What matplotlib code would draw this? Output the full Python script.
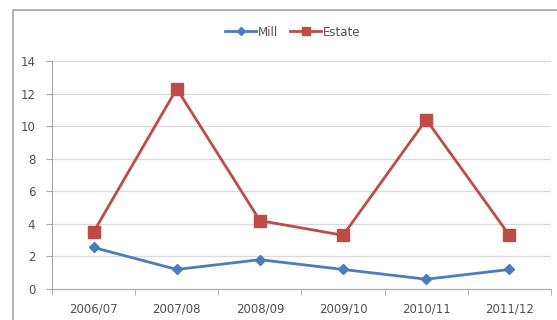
import numpy as np
import matplotlib.pyplot as plt
from matplotlib.patches import Rectangle

seasons = ['2006/07', '2007/08', '2008/09', '2009/10', '2010/11', '2011/12']
mill = [2.55, 1.2, 1.8, 1.2, 0.6, 1.2]
estate = [3.5, 12.3, 4.2, 3.3, 10.4, 3.3]

fig = plt.figure(figsize=(5.57, 3.2), dpi=100)
ax = fig.add_axes([52 / 557, 1 - 289 / 320, 499 / 557, 228 / 320])

# outer chart frame
fig.patches.append(Rectangle((13 / 557, -0.1), 1.0, 1 - 10 / 320 + 0.1,
                             transform=fig.transFigure, fill=False,
                             edgecolor='#a6a6a6', linewidth=1.2))

x = np.arange(len(seasons))
ax.plot(x, mill, color='#4a7ebb', linewidth=2, marker='D', markersize=5.5,
        label='Mill', zorder=3)
ax.plot(x, estate, color='#be4b48', linewidth=2, marker='s', markersize=8,
        label='Estate', zorder=3)

ax.set_xlim(-0.5, len(seasons) - 0.5)
ax.set_ylim(0, 14)
ax.set_yticks(np.arange(0, 15, 2))
ax.set_xticks(x)
ax.set_xticklabels(seasons)
ax.set_xticks(np.arange(-0.5, len(seasons)), minor=True)
ax.tick_params(axis='x', which='major', length=0, pad=10)
ax.tick_params(axis='x', which='minor', length=4, color='#a6a6a6')
ax.tick_params(axis='y', length=4, color='#a6a6a6', pad=8)
ax.tick_params(labelsize=8.5, labelcolor='#505050')

ax.grid(True, axis='y', color='#d9d9d9', linewidth=0.9)
ax.set_axisbelow(True)
for side in ['top', 'right']:
    ax.spines[side].set_visible(False)
for side in ['left', 'bottom']:
    ax.spines[side].set_color('#a6a6a6')

fig.legend(loc='center', bbox_to_anchor=(293 / 557, 1 - 32 / 320), ncol=2,
           frameon=False, fontsize=8.5, handlelength=2.6, columnspacing=1.0,
           handletextpad=0.2, labelcolor='#505050', markerscale=0.8)

fig.savefig('out.png', dpi=100)
